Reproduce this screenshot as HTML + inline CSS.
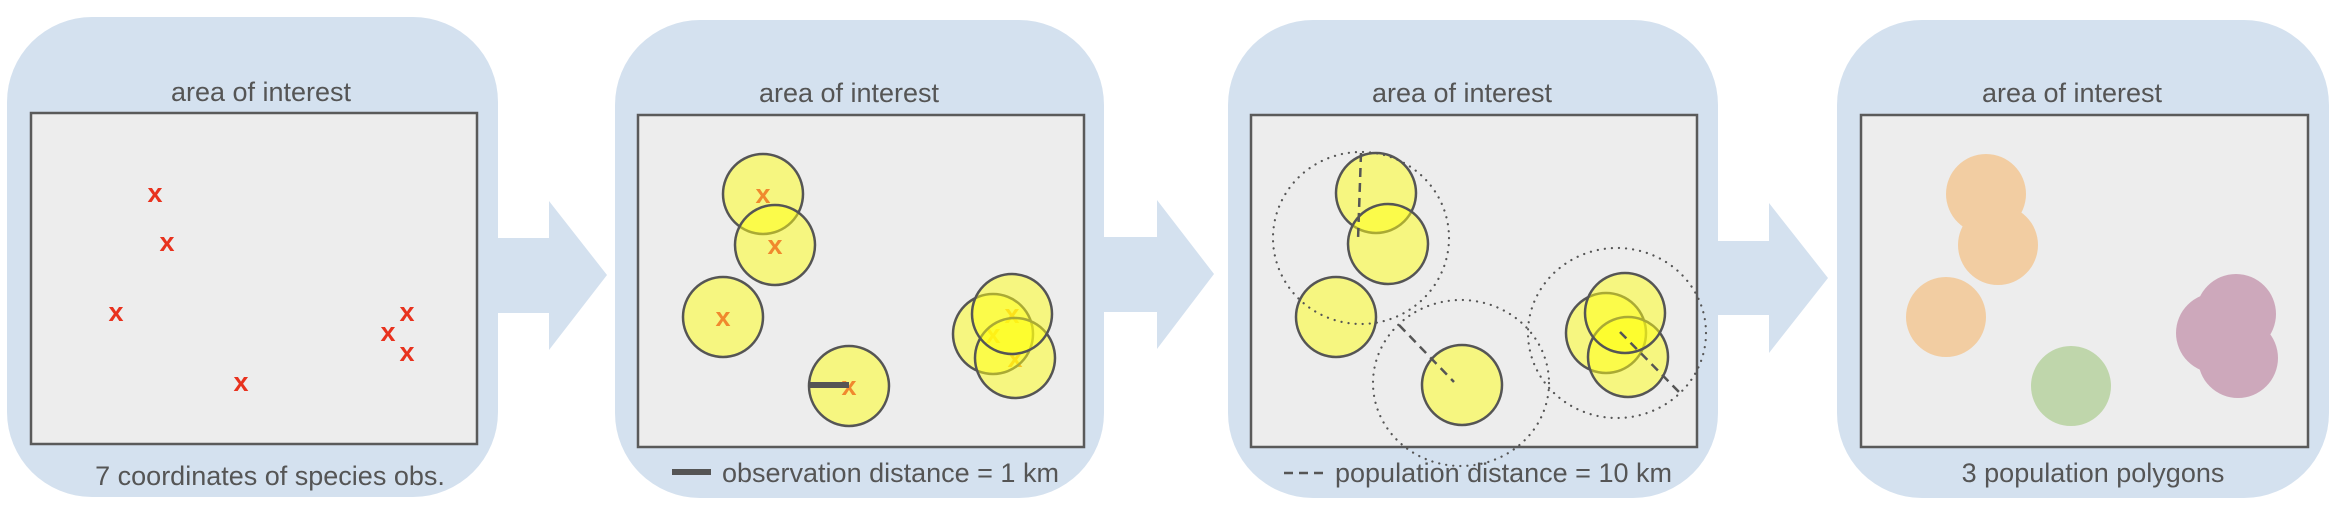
<!DOCTYPE html>
<html><head><meta charset="utf-8"><style>
html,body{margin:0;padding:0;background:#fff;}
svg{display:block;}
text{font-family:"Liberation Sans",Arial,sans-serif;fill:#555;}
</style></head><body>
<svg width="2336" height="520" viewBox="0 0 2336 520" xmlns="http://www.w3.org/2000/svg">
<defs>
<g id="yc"><circle r="40" fill="rgb(255,255,20)" fill-opacity="0.5" stroke="#555" stroke-width="2.5"/></g>
</defs>
<g fill="#d4e1ef">
<rect x="7" y="17" width="491" height="480" rx="85" ry="85"/>
<rect x="615" y="20" width="489" height="478" rx="85" ry="85"/>
<rect x="1228" y="20" width="490" height="478" rx="85" ry="85"/>
<rect x="1837" y="20" width="492" height="478" rx="85" ry="85"/>
<polygon points="498,238 549,238 549,201 607,275 549,350 549,313 498,313"/>
<polygon points="1104,237 1157,237 1157,200 1214,274 1157,349 1157,312 1104,312"/>
<polygon points="1718,241 1769,241 1769,203 1828,278 1769,353 1769,315 1718,315"/>
</g>
<g fill="#ededed" stroke="#5a5a5a" stroke-width="2.5">
<rect x="31" y="113" width="446" height="331"/>
<rect x="638" y="115" width="446" height="332"/>
<rect x="1251" y="115" width="446" height="332"/>
<rect x="1861" y="115" width="447" height="332"/>
</g>
<g font-size="27" text-anchor="middle">
<text x="261" y="101">area of interest</text>
<text x="849" y="102">area of interest</text>
<text x="1462" y="102">area of interest</text>
<text x="2072" y="102">area of interest</text>
</g>
<g font-size="27" font-weight="bold" text-anchor="middle">
<text x="155" y="202" style="fill:#e8321e">x</text>
<text x="167" y="251" style="fill:#e8321e">x</text>
<text x="116" y="321" style="fill:#e8321e">x</text>
<text x="407" y="321" style="fill:#e8321e">x</text>
<text x="388" y="341" style="fill:#e8321e">x</text>
<text x="407" y="361" style="fill:#e8321e">x</text>
<text x="241" y="391" style="fill:#e8321e">x</text>
</g>
<text x="270" y="485" font-size="27" text-anchor="middle">7 coordinates of species obs.</text>
<g font-size="27" font-weight="bold" text-anchor="middle">
<text x="993" y="343" style="fill:#f0892e">x</text>
<text x="1012" y="323" style="fill:#f0892e">x</text>
<text x="1015" y="367" style="fill:#f0892e">x</text>
</g>
<use href="#yc" x="763" y="194"/>
<use href="#yc" x="775" y="245"/>
<use href="#yc" x="723" y="317"/>
<use href="#yc" x="849" y="386"/>
<use href="#yc" x="993" y="334"/>
<use href="#yc" x="1015" y="358"/>
<use href="#yc" x="1012" y="314"/>
<g font-size="27" font-weight="bold" text-anchor="middle">
<text x="763" y="203" style="fill:#f0892e">x</text>
<text x="775" y="254" style="fill:#f0892e">x</text>
<text x="723" y="326" style="fill:#f0892e">x</text>
<text x="849" y="395" style="fill:#f0892e">x</text>
</g>
<line x1="809" y1="385" x2="849" y2="385" stroke="#555" stroke-width="6"/>
<line x1="672" y1="472" x2="711" y2="472" stroke="#555" stroke-width="6"/>
<text x="722" y="482" font-size="27">observation distance = 1 km</text>
<use href="#yc" x="1376" y="193"/>
<use href="#yc" x="1388" y="244"/>
<use href="#yc" x="1336" y="317"/>
<use href="#yc" x="1462" y="385"/>
<use href="#yc" x="1606" y="333"/>
<use href="#yc" x="1628" y="357"/>
<use href="#yc" x="1625" y="313"/>
<g fill="none" stroke="#555" stroke-width="2.2" stroke-linecap="round" stroke-dasharray="0.1 7">
<ellipse cx="1361" cy="238" rx="88" ry="86"/>
<ellipse cx="1461" cy="383" rx="88" ry="83"/>
<ellipse cx="1617" cy="333" rx="89" ry="85"/>
</g>
<g stroke="#555" stroke-width="2.5" stroke-dasharray="9 6">
<line x1="1361" y1="153" x2="1358" y2="240"/>
<line x1="1399" y1="325" x2="1454" y2="382"/>
<line x1="1620" y1="332" x2="1680" y2="393"/>
<line x1="1284" y1="473" x2="1326" y2="473"/>
</g>
<text x="1335" y="482" font-size="27">population distance = 10 km</text>
<g fill="#f2cda2">
<circle cx="1986" cy="194" r="40"/>
<circle cx="1998" cy="245" r="40"/>
<circle cx="1946" cy="317" r="40"/>
</g>
<circle cx="2071" cy="386" r="40" fill="#bfd6ab"/>
<g fill="#cda8bb">
<circle cx="2216" cy="333" r="40"/>
<circle cx="2236" cy="314" r="40"/>
<circle cx="2238" cy="358" r="40"/>
</g>
<text x="2093" y="482" font-size="27" text-anchor="middle">3 population polygons</text>
</svg>
</body></html>
